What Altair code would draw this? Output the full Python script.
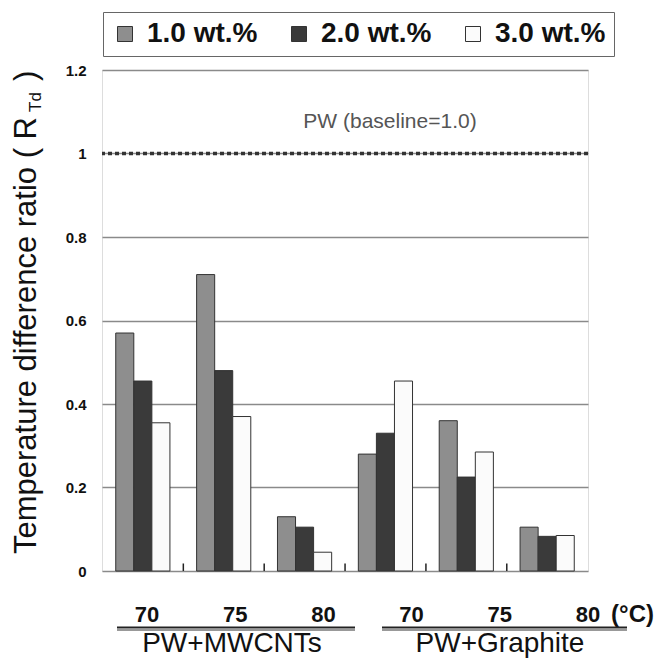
import altair as alt
import pandas as pd

categories = ["PW+MWCNTs 70", "PW+MWCNTs 75", "PW+MWCNTs 80",
              "PW+Graphite 70", "PW+Graphite 75", "PW+Graphite 80"]
temp_labels = ["70", "75", "80", "70", "75", "80"]
groups = ["PW+MWCNTs", "PW+Graphite"]
series = ["1.0 wt.%", "2.0 wt.%", "3.0 wt.%"]
values_1wt = [0.57, 0.71, 0.13, 0.28, 0.36, 0.105]
values_2wt = [0.455, 0.48, 0.105, 0.33, 0.225, 0.083]
values_3wt = [0.355, 0.37, 0.045, 0.455, 0.285, 0.085]
y_ticks = [0, 0.2, 0.4, 0.6, 0.8, 1.0, 1.2]
baseline_value = 1.0
baseline_label = "PW (baseline=1.0)"
unit_label = "(°C)"
y_title_main = "Temperature difference ratio ( R"
y_title_sub = "Td"
y_title_end = ")"
colors = ["#8e8e8e", "#3a3a3a", "#fbfbfb"]

FONT = "Liberation Sans"

rows = []
for s, vals in zip(series, [values_1wt, values_2wt, values_3wt]):
    for c, v in zip(categories, vals):
        rows.append({"cat": c, "series": s, "value": v})
bars_df = pd.DataFrame(rows)

x_scale = alt.Scale(domain=categories, paddingInner=0.33, paddingOuter=0.17)
y_scale = alt.Scale(domain=[0, 1.2], nice=False)

bars = alt.Chart(bars_df).mark_bar(stroke="#333", strokeWidth=1).encode(
    x=alt.X("cat:N", sort=categories, scale=x_scale, axis=None),
    xOffset=alt.XOffset("series:N", sort=series, scale=alt.Scale(domain=series)),
    y=alt.Y("value:Q", scale=y_scale,
            axis=alt.Axis(values=y_ticks, format=".1~f", title=None,
                          labelFont=FONT, labelFontSize=15, labelFontWeight="bold",
                          labelColor="#111", labelPadding=16, ticks=False, domain=False,
                          grid=True, gridColor="#8a8a8a", gridWidth=1.5)),
    color=alt.Color("series:N", sort=series,
                    scale=alt.Scale(domain=series, range=colors),
                    legend=alt.Legend(title=None, orient="none", legendX=1, legendY=-58,
                                      direction="horizontal", columns=3,
                                      strokeColor="#666", fillColor="white", padding=8,
                                      columnPadding=27, labelFont=FONT, labelFontSize=28,
                                      labelFontWeight="bold", labelColor="#111",
                                      labelOffset=8, symbolOffset=0,
                                      symbolType="square", symbolSize=225,
                                      symbolStrokeColor="#333", symbolStrokeWidth=1)),
)

ticks_df = pd.DataFrame({"cat": categories[:-1]})
ticks = alt.Chart(ticks_df).mark_rule(color="#222", strokeWidth=1.5, xOffset=13.4).encode(
    x=alt.X("cat:N", sort=categories, scale=x_scale, axis=None, bandPosition=1),
    y=alt.datum(0),
    y2=alt.datum(0.018),
)

base_df = pd.DataFrame({"v": [baseline_value], "label": [baseline_label]})
base_rule = alt.Chart(base_df).mark_rule(color="#333", strokeWidth=3.5, strokeDash=[4, 3]).encode(
    y=alt.Y("v:Q", scale=y_scale)
)
base_text = alt.Chart(base_df).mark_text(font=FONT, fontSize=21, color="#555",
                                         align="center", baseline="alphabetic").encode(
    x=alt.value(288), y=alt.value(58), text="label:N"
)

temp_df = pd.DataFrame({"cat": categories, "t": temp_labels})
temps = alt.Chart(temp_df).mark_text(font=FONT, fontSize=22, fontWeight="bold", color="#111",
                                     align="center", baseline="alphabetic").encode(
    x=alt.X("cat:N", sort=categories,
            scale=alt.Scale(type="point", domain=categories, range=[45, 486], padding=0),
            axis=None),
    y=alt.value(552),
    text="t:N",
)

one = alt.Data(values=[{}])
unit = alt.Chart(one).mark_text(font=FONT, fontSize=24, fontWeight="bold", color="#111",
                                align="right", baseline="alphabetic", text=unit_label).encode(
    x=alt.value(552), y=alt.value(552))

group1 = alt.Chart(one).mark_text(font=FONT, fontSize=28, color="#111", align="center",
                                  baseline="alphabetic", text=groups[0]).encode(
    x=alt.value(130), y=alt.value(582))
group2 = alt.Chart(one).mark_text(font=FONT, fontSize=28, color="#111", align="center",
                                  baseline="alphabetic", text=groups[1]).encode(
    x=alt.value(398), y=alt.value(582))

ul1a = alt.Chart(one).mark_rule(color="#222", strokeWidth=2).encode(
    x=alt.value(15), x2=alt.value(253), y=alt.value(557.5))
ul1b = alt.Chart(one).mark_rule(color="#999", strokeWidth=2).encode(
    x=alt.value(15), x2=alt.value(253), y=alt.value(560))
ul2a = alt.Chart(one).mark_rule(color="#222", strokeWidth=2).encode(
    x=alt.value(280), x2=alt.value(525), y=alt.value(557.5))
ul2b = alt.Chart(one).mark_rule(color="#999", strokeWidth=2).encode(
    x=alt.value(280), x2=alt.value(525), y=alt.value(560))

yt_main = alt.Chart(one).mark_text(font=FONT, fontSize=31, color="#111", angle=270,
                                   align="right", baseline="alphabetic",
                                   text=y_title_main).encode(
    x=alt.value(-66), y=alt.value(47))
yt_sub = alt.Chart(one).mark_text(font=FONT, fontSize=17, color="#111", angle=270,
                                  align="left", baseline="alphabetic",
                                  text=y_title_sub).encode(
    x=alt.value(-61), y=alt.value(42))
yt_end = alt.Chart(one).mark_text(font=FONT, fontSize=31, color="#111", angle=270,
                                  align="left", baseline="alphabetic",
                                  text=y_title_end).encode(
    x=alt.value(-66), y=alt.value(11))

chart = alt.layer(
    bars, ticks, base_rule, base_text, temps, unit, group1, group2,
    ul1a, ul1b, ul2a, ul2b, yt_main, yt_sub, yt_end
).resolve_scale(x="independent").properties(
    width=486, height=501,
    autosize=alt.AutoSizeParams(type="none"),
    padding={"left": 94, "top": 62, "right": 66, "bottom": 88},
).configure_view(stroke="#8a8a8a", strokeWidth=1.5).configure(font=FONT)

chart.save("out.html", embed_options={"renderer": "svg", "actions": False})
